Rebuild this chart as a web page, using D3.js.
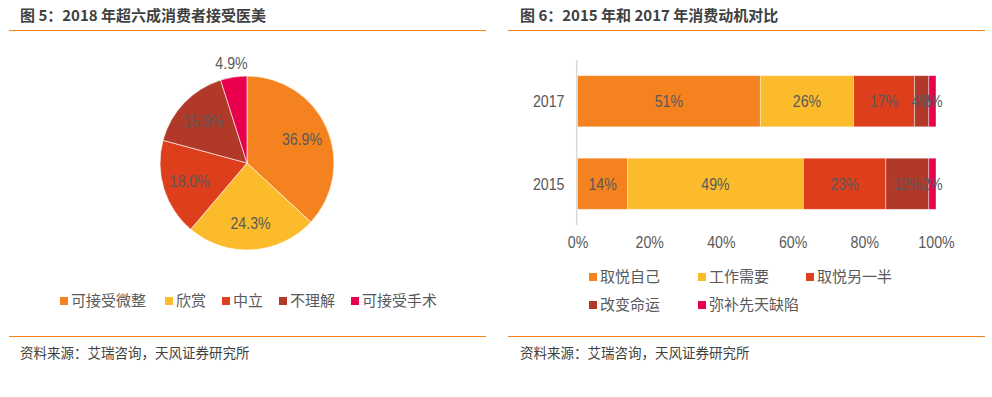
<!DOCTYPE html>
<html>
<head>
<meta charset="utf-8">
<script src="https://cdn.jsdelivr.net/npm/d3@7"></script>
<style>
  body { margin: 0; background: #fff; }
  svg text { font-family: "Liberation Sans", Arial, "Noto Sans CJK SC", sans-serif; }
  .num { font-family: "Liberation Sans Narrow", "Liberation Sans", Arial, sans-serif; }
  .cjk { font-family: "Noto Sans CJK SC", "Liberation Sans", sans-serif; }
</style>
</head>
<body>
<script>
// ---- data ----
var pieCategories = ['可接受微整', '欣赏', '中立', '不理解', '可接受手术'];
var pieValues = [36.9, 24.3, 18.0, 15.9, 4.9];

var barYears = ['2017', '2015'];
var barSeries = ['取悦自己', '工作需要', '取悦另一半', '改变命运', '弥补先天缺陷'];
var values2017 = [51, 26, 17, 4, 2];
var values2015 = [14, 49, 23, 12, 2];
var xTicks = [0, 20, 40, 60, 80, 100];

var colors = ['#F4821F', '#FBBB2B', '#DD3E1B', '#B0392A', '#E9004D'];
var textColor = '#595959';
var titleColor = '#404040';
var lineColor = '#F4821F';
var numSize = 16.5;
var squeeze = 0.86; // the source used a narrow face for numbers

var svg = d3.select('body').append('svg')
    .attr('width', 992)
    .attr('height', 397);

// narrow number text: put it at (px,py) and squeeze horizontally
function narrowAt(px, py) {
    return 'translate(' + px + ',' + py + ') scale(' + squeeze + ',1)';
}

// ---- frames: titles, rules, sources ----
function frame(x0, x1, tx, title) {
    svg.append('text')
        .attr('x', tx).attr('y', 20.5)
        .attr('font-size', 15).attr('font-weight', 'bold')
        .attr('fill', titleColor)
        .attr('class', 'cjk')
        .text(title);
    svg.append('line')
        .attr('x1', x0).attr('x2', x1).attr('y1', 30.5).attr('y2', 30.5)
        .attr('stroke', lineColor).attr('stroke-width', 1.2);
    svg.append('line')
        .attr('x1', x0).attr('x2', x1).attr('y1', 336.5).attr('y2', 336.5)
        .attr('stroke', lineColor).attr('stroke-width', 1.2);
    svg.append('text')
        .attr('x', tx).attr('y', 357.5)
        .attr('font-size', 13.5)
        .attr('fill', titleColor)
        .attr('class', 'cjk')
        .text('资料来源：艾瑞咨询，天风证券研究所');
}
frame(9, 486, 20, '图 5：2018 年超六成消费者接受医美');
frame(508, 985, 520, '图 6：2015 年和 2017 年消费动机对比');

// ---- pie ----
var cx = 247, cy = 163, R = 87;
var pie = d3.pie().sort(null).value(function(d) { return d; });
var arcs = pie(pieValues);
var arc = d3.arc().innerRadius(0).outerRadius(R);
var labelArc = d3.arc().innerRadius(60).outerRadius(60);
var outerArc = d3.arc().innerRadius(101).outerRadius(101);

var pg = svg.append('g').attr('transform', 'translate(' + cx + ',' + cy + ')');
pg.selectAll('path')
    .data(arcs)
    .enter().append('path')
    .attr('d', arc)
    .attr('fill', function(d, i) { return colors[i]; })
    .attr('stroke', '#fff')
    .attr('stroke-width', 0.6);

pg.selectAll('text.lbl')
    .data(arcs)
    .enter().append('text')
    .attr('class', 'num')
    .attr('transform', function(d) {
        var p = (d.value < 6 ? outerArc : labelArc).centroid(d);
        return narrowAt(p[0], p[1]);
    })
    .attr('text-anchor', 'middle')
    .attr('dy', '0.35em')
    .attr('font-size', numSize)
    .attr('fill', textColor)
    .text(function(d) { return d.value.toFixed(1) + '%'; });

// pie legend
var pieLegendX = [60, 165, 222, 279, 351];
var pl = svg.append('g');
pieCategories.forEach(function(c, i) {
    pl.append('rect')
        .attr('x', pieLegendX[i]).attr('y', 297)
        .attr('width', 8).attr('height', 8)
        .attr('fill', colors[i]);
    pl.append('text')
        .attr('class', 'cjk')
        .attr('x', pieLegendX[i] + 11).attr('y', 301)
        .attr('dy', '0.36em')
        .attr('font-size', 15)
        .attr('fill', textColor)
        .text(c);
});

// ---- stacked bar ----
var x = d3.scaleLinear().domain([0, 100]).range([577.5, 936]);
var y = d3.scaleBand().domain(barYears).range([60, 225]).paddingInner(0.38).paddingOuter(0.19);

var rows = [values2017, values2015];
var bg = svg.append('g');
rows.forEach(function(vals, r) {
    var stacked = [];
    var acc = 0;
    vals.forEach(function(v, i) {
        stacked.push({ x0: acc, x1: acc + v, v: v, i: i });
        acc += v;
    });
    var g = bg.append('g');
    g.selectAll('rect')
        .data(stacked)
        .enter().append('rect')
        .attr('x', function(d) { return x(d.x0); })
        .attr('width', function(d) { return x(d.x1) - x(d.x0); })
        .attr('y', y(barYears[r]))
        .attr('height', y.bandwidth())
        .attr('fill', function(d) { return colors[d.i]; })
        .attr('stroke', '#fff')
        .attr('stroke-opacity', 0.5)
        .attr('stroke-width', 0.8);
    g.selectAll('text')
        .data(stacked)
        .enter().append('text')
        .attr('class', 'num')
        .attr('transform', function(d) {
            return narrowAt((x(d.x0) + x(d.x1)) / 2, y(barYears[r]) + y.bandwidth() / 2);
        })
        .attr('dy', '0.35em')
        .attr('text-anchor', 'middle')
        .attr('font-size', numSize)
        .attr('fill', textColor)
        .text(function(d) { return d.v + '%'; });
});

// y axis line + category labels
svg.append('line')
    .attr('x1', 576.7).attr('x2', 576.7).attr('y1', 60).attr('y2', 225)
    .attr('stroke', '#d9d9d9').attr('stroke-width', 1.5);
svg.selectAll('text.cat')
    .data(barYears)
    .enter().append('text')
    .attr('class', 'num')
    .attr('transform', function(d) { return narrowAt(564.5, y(d) + y.bandwidth() / 2); })
    .attr('dy', '0.35em')
    .attr('text-anchor', 'end')
    .attr('font-size', numSize)
    .attr('fill', textColor)
    .text(function(d) { return d; });

// x axis
var xAxis = d3.axisBottom(x)
    .tickValues(xTicks)
    .tickSize(0)
    .tickPadding(0)
    .tickFormat(function(d) { return d + '%'; });
var xa = svg.append('g')
    .attr('transform', 'translate(0,237)')
    .call(xAxis);
xa.select('.domain').remove();
xa.selectAll('text')
    .attr('class', 'num')
    .attr('font-size', numSize)
    .attr('fill', textColor)
    .attr('dy', '0.35em')
    .attr('y', 0)
    .attr('transform', narrowAt(0, 5.5));

// bar legend
var barLegendX = [589, 698, 806, 589, 698];
var barLegendY = [277, 277, 277, 305, 305];
var bl = svg.append('g');
barSeries.forEach(function(s, i) {
    bl.append('rect')
        .attr('x', barLegendX[i]).attr('y', barLegendY[i] - 4)
        .attr('width', 8).attr('height', 8)
        .attr('fill', colors[i]);
    bl.append('text')
        .attr('class', 'cjk')
        .attr('x', barLegendX[i] + 11).attr('y', barLegendY[i])
        .attr('dy', '0.36em')
        .attr('font-size', 15)
        .attr('fill', textColor)
        .text(s);
});
</script>
</body>
</html>
